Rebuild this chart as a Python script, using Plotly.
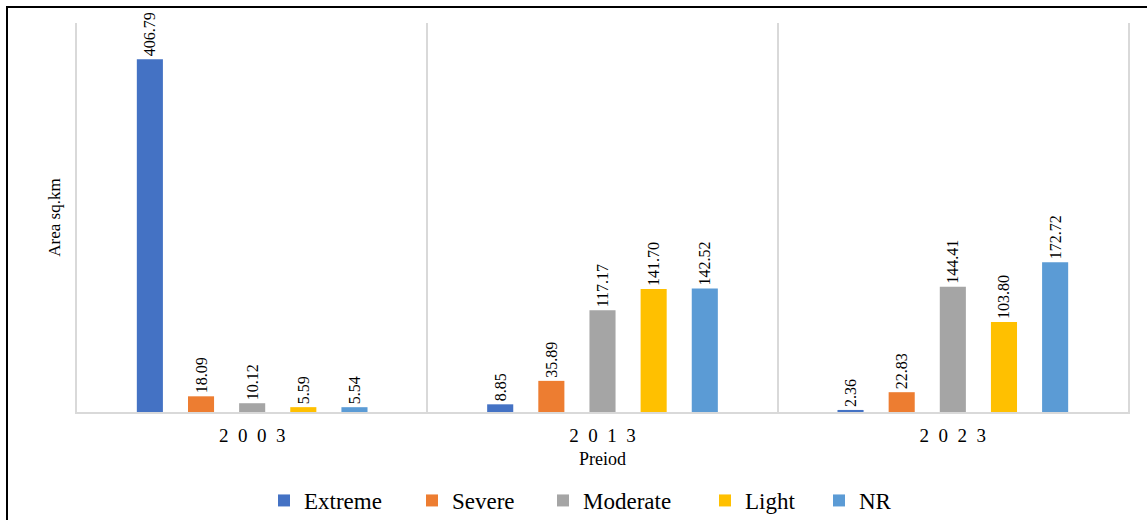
import plotly.graph_objects as go

periods = ["2003", "2013", "2023"]
series_names = ["Extreme", "Severe", "Moderate", "Light", "NR"]
extreme = [406.79, 8.85, 2.36]
severe = [18.09, 35.89, 22.83]
moderate = [10.12, 117.17, 144.41]
light = [5.59, 141.70, 103.80]
nr = [5.54, 142.52, 172.72]
colors = ["#4472C4", "#ED7D31", "#A5A5A5", "#FFC000", "#5B9BD5"]

values = [extreme, severe, moderate, light, nr]
serif = "'Times New Roman', 'Liberation Serif', 'DejaVu Serif', serif"

W, H = 1147, 520
l, r, t, b = 77, 19, 23, 108
pw, ph = W - l - r, H - t - b

def px_x(p):
    return (p - l) / pw

def px_y(p):
    return 1 - (p - t) / ph

# pixel x of each legend entry's marker centre
legend_marker_px = [284, 432, 563, 725, 839]
legend_ids = ["legend"] + [f"legend{i}" for i in range(2, 6)]

fig = go.Figure()
for name, vals, col, lid in zip(series_names, values, colors, legend_ids):
    fig.add_trace(go.Bar(
        name=name, x=periods, y=vals, marker_color=col, marker_line_width=0,
        text=[f"{v:.2f}" for v in vals], textposition="outside", textangle=-90,
        constraintext="none", cliponaxis=False, legend=lid, showlegend=True,
        textfont=dict(family=serif, size=16, color="#000000"),
    ))

legend_layouts = {}
for lid, mx in zip(legend_ids, legend_marker_px):
    legend_layouts[lid] = dict(
        orientation="h", x=px_x(mx - 20), xanchor="left", y=px_y(479), yanchor="top",
        font=dict(family=serif, size=23, color="#000000"), itemwidth=30,
        bgcolor="rgba(0,0,0,0)", visible=True,
    )

fig.update_layout(
    width=W, height=H, barmode="group", bargap=0.27, bargroupgap=0.49,
    margin=dict(l=l, r=r, t=t, b=b, autoexpand=False),
    paper_bgcolor="white", plot_bgcolor="white", showlegend=True,
    font=dict(family=serif, color="#000000"),
    xaxis=dict(
        type="category", tickson="boundaries", showgrid=True, gridcolor="#D9D9D9", gridwidth=2,
        showline=True, linecolor="#D9D9D9", linewidth=2, ticks="",
        tickvals=periods, ticktext=["\u2002".join(p) for p in periods],
        tickfont=dict(family=serif, size=19, color="#000000"), ticklabelstandoff=5,
        title=dict(text="Preiod", font=dict(family=serif, size=18, color="#000000"), standoff=8),
    ),
    yaxis=dict(
        range=[0, 448.5], showticklabels=False, showgrid=False, zeroline=False, ticks="",
        showline=True, mirror=True, linecolor="#D9D9D9", linewidth=2,
        title=dict(text="Area sq.km", font=dict(family=serif, size=17, color="#000000"), standoff=10),
    ),
    shapes=[dict(
        type="rect", xref="paper", yref="paper",
        x0=px_x(7), x1=px_x(1170), y0=px_y(7), y1=px_y(540),
        line=dict(color="#000000", width=2), fillcolor="rgba(0,0,0,0)", layer="above",
    )],
    **legend_layouts,
)

fig.write_html("out.html")
